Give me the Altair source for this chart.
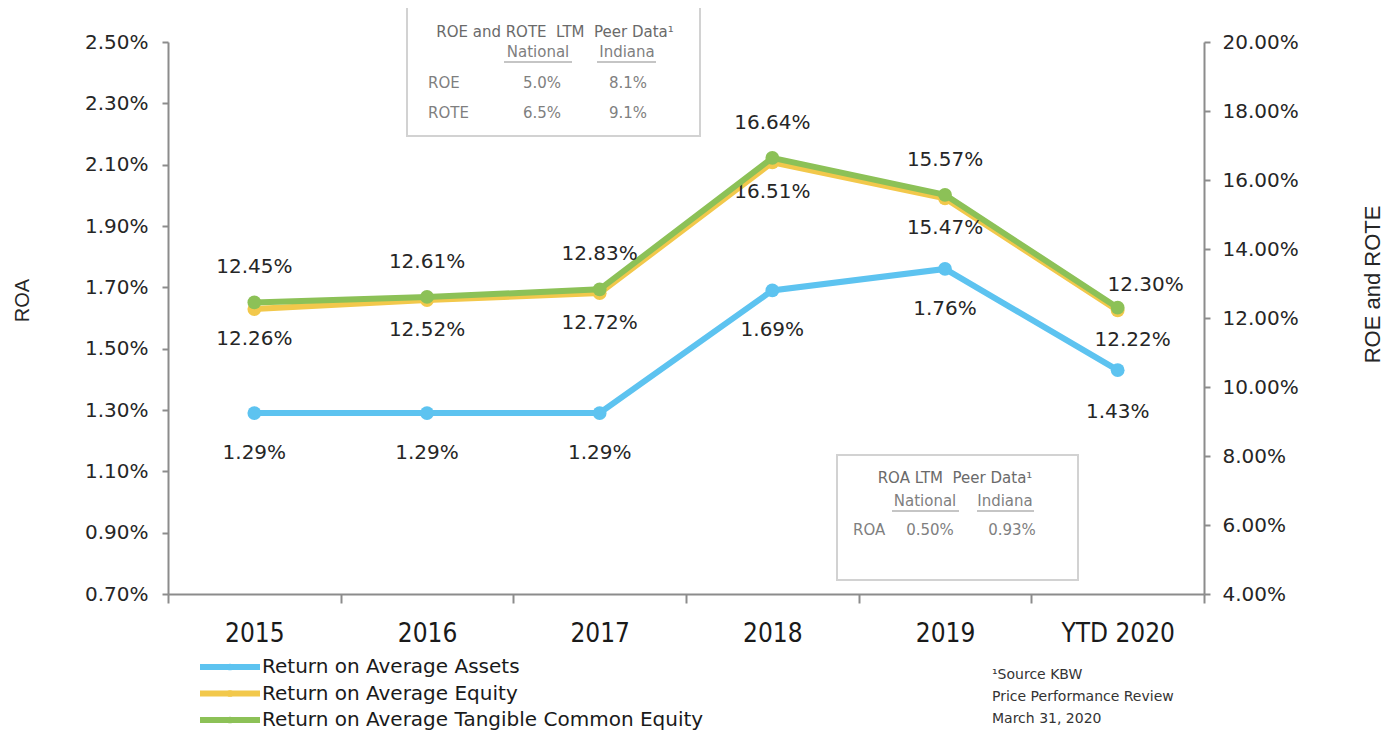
import altair as alt
import pandas as pd

# ---------------- data ----------------
years = ["2015", "2016", "2017", "2018", "2019", "YTD 2020"]
roa = [1.29, 1.29, 1.29, 1.69, 1.76, 1.43]
roe = [12.26, 12.52, 12.72, 16.51, 15.47, 12.22]
rote = [12.45, 12.61, 12.83, 16.64, 15.57, 12.30]

series_names = [
    "Return on Average Assets",
    "Return on Average Equity",
    "Return on Average Tangible Common Equity",
]
series_colors = ["#5DC3F0", "#F2C84B", "#8CC157"]

roa_ticks = [0.7, 0.9, 1.1, 1.3, 1.5, 1.7, 1.9, 2.1, 2.3, 2.5]
roe_ticks = [4, 6, 8, 10, 12, 14, 16, 18, 20]

NB = "\u00a0"
peer1_title = f"ROE and ROTE {NB}LTM {NB}Peer Data¹"
peer_cols = ["National", "Indiana"]
peer1_rows = ["ROE", "ROTE"]
peer1_national = ["5.0%", "6.5%"]
peer1_indiana = ["8.1%", "9.1%"]

peer2_title = f"ROA LTM {NB}Peer Data¹"
peer2_rows = ["ROA"]
peer2_national = ["0.50%"]
peer2_indiana = ["0.93%"]

source_lines = ["¹Source KBW", "Price Performance Review", "March 31, 2020"]

df = pd.DataFrame({"year": years, "roa": roa, "roe": roe, "rote": rote})

# ---------------- styles ----------------
AX = "#8c8c8c"
TXT = "#262626"
LAST = "YTD 2020"

x_enc = alt.X(
    "year:N",
    sort=years,
    title=None,
    scale=alt.Scale(type="band", paddingInner=0, paddingOuter=0),
    axis=alt.Axis(
        labelAngle=0, labelFont="DejaVu Sans Condensed, Liberation Sans, sans-serif",
        labelFontSize=26, labelColor="#1a1a1a", labelPadding=17, tickBand="extent",
        tickSize=9, tickColor=AX, tickWidth=2, domainColor=AX, domainWidth=2, grid=False,
    ),
)

axis_left = alt.Axis(
    orient="left", values=roa_ticks,
    labelExpr="format(datum.value, '.2f') + '%'",
    labelFont="DejaVu Sans", labelFontSize=20, labelColor=TXT, labelPadding=14,
    tickSize=6, tickColor=AX, tickWidth=2, domainColor=AX, domainWidth=2, grid=False,
    title="ROA", titleFont="Liberation Sans", titleFontSize=20, titleFontWeight="normal",
    titleColor=TXT, titleAngle=270, titleX=-146, titleY=258,
    titleAlign="center", titleBaseline="middle",
)
axis_right = alt.Axis(
    orient="right", values=roe_ticks,
    labelExpr="format(datum.value, '.2f') + '%'",
    labelFont="DejaVu Sans", labelFontSize=20, labelColor=TXT, labelPadding=12,
    tickSize=6, tickColor=AX, tickWidth=2, domainColor=AX, domainWidth=2, grid=False,
    title="ROE and ROTE", titleFont="Liberation Sans", titleFontSize=22,
    titleFontWeight="normal", titleColor=TXT, titleAngle=270, titleX=168, titleY=242,
    titleAlign="center", titleBaseline="middle",
)

y_left = lambda f: alt.Y(f"{f}:Q", scale=alt.Scale(domain=[0.7, 2.5], nice=False, zero=False), axis=axis_left)
y_right = lambda f: alt.Y(f"{f}:Q", scale=alt.Scale(domain=[4, 20], nice=False, zero=False), axis=axis_right)

base = alt.Chart(df)


def series_layers(field, yfun, color, dy, last_dx, last_dy):
    line = base.mark_line(strokeWidth=6, color=color).encode(x=x_enc, y=yfun(field))
    pts = base.mark_circle(size=190, opacity=1, color=color).encode(x=x_enc, y=yfun(field))
    lab_base = base.transform_calculate(lab=f"format(datum.{field}, '.2f') + '%'")
    labs = lab_base.transform_filter(alt.datum.year != LAST).mark_text(
        font="DejaVu Sans", fontSize=20, color=TXT, dy=dy
    ).encode(x=x_enc, y=yfun(field), text="lab:N")
    labs_last = lab_base.transform_filter(alt.datum.year == LAST).mark_text(
        font="DejaVu Sans", fontSize=20, color=TXT, dx=last_dx, dy=last_dy
    ).encode(x=x_enc, y=yfun(field), text="lab:N")
    return [line, pts, labs, labs_last]


layer_roa = alt.layer(*series_layers("roa", y_left, series_colors[0], 40, 0, 42))
layer_eq = alt.layer(
    *series_layers("roe", y_right, series_colors[1], 30, 15, 30),
    *series_layers("rote", y_right, series_colors[2], -35, 28, -23),
)

# ---------------- annotation helpers (pixel positions relative to plot) ----------------
def one():
    return alt.Chart(pd.DataFrame({"k": [0]}))


def txt(s, x, y, size=15, color="#7f7f7f", align="center", font="DejaVu Sans"):
    return alt.Chart(pd.DataFrame({"t": [s]})).mark_text(
        align=align, baseline="middle", fontSize=size, color=color, font=font
    ).encode(x=alt.value(x), y=alt.value(y), text="t:N")


def box(x1, y1, x2, y2):
    return one().mark_rect(fill="white", stroke="#d2d2d2", strokeWidth=2).encode(
        x=alt.value(x1), x2=alt.value(x2), y=alt.value(y1), y2=alt.value(y2)
    )


def hrule(x1, x2, y, color="#8c8c8c", w=1.2):
    return one().mark_rule(color=color, strokeWidth=w).encode(
        x=alt.value(x1), x2=alt.value(x2), y=alt.value(y)
    )


notes = []
# top peer box
notes += [box(239, -35, 532, 94)]
notes += [txt(peer1_title, 387, -10, color="#6a6a6a")]
notes += [txt(peer_cols[0], 370, 10), txt(peer_cols[1], 459, 10)]
notes += [hrule(336, 404, 20), hrule(429, 488, 20)]
for i, (r, n, d) in enumerate(zip(peer1_rows, peer1_national, peer1_indiana)):
    yy = 41 + i * 30
    notes += [txt(r, 260, yy, align="left"), txt(n, 374, yy), txt(d, 460, yy)]

# bottom peer box
notes += [box(669, 413, 910, 538)]
notes += [txt(peer2_title, 787, 436, color="#6a6a6a")]
notes += [txt(peer_cols[0], 757, 459), txt(peer_cols[1], 837, 459)]
notes += [hrule(724, 791, 469), hrule(809, 866, 469)]
for i, (r, n, d) in enumerate(zip(peer2_rows, peer2_national, peer2_indiana)):
    yy = 488 + i * 30
    notes += [txt(r, 685, yy, align="left"), txt(n, 762, yy), txt(d, 844, yy)]

# legend
for i, (name, col) in enumerate(zip(series_names, series_colors)):
    yy = 625 + i * 26.5
    notes += [hrule(32, 92, yy, color=col, w=6)]
    notes += [one().mark_circle(size=45, opacity=1, color=col).encode(x=alt.value(62), y=alt.value(yy))]
    notes += [txt(name, 94, yy, size=20, color="#1a1a1a", align="left")]

# source note
for i, s in enumerate(source_lines):
    notes += [txt(s, 824, 633 + i * 22, size=14, color="#333333", align="left")]

chart = (
    alt.layer(layer_roa, layer_eq, *notes)
    .resolve_scale(y="independent")
    .properties(
        width=1036,
        height=552,
        autosize=alt.AutoSizeParams(type="none"),
        padding={"left": 160, "top": 34, "right": 181, "bottom": 138},
        background="white",
    )
    .configure_view(stroke=None)
)

chart.save("out.html", embed_options={"renderer": "svg", "actions": False})
